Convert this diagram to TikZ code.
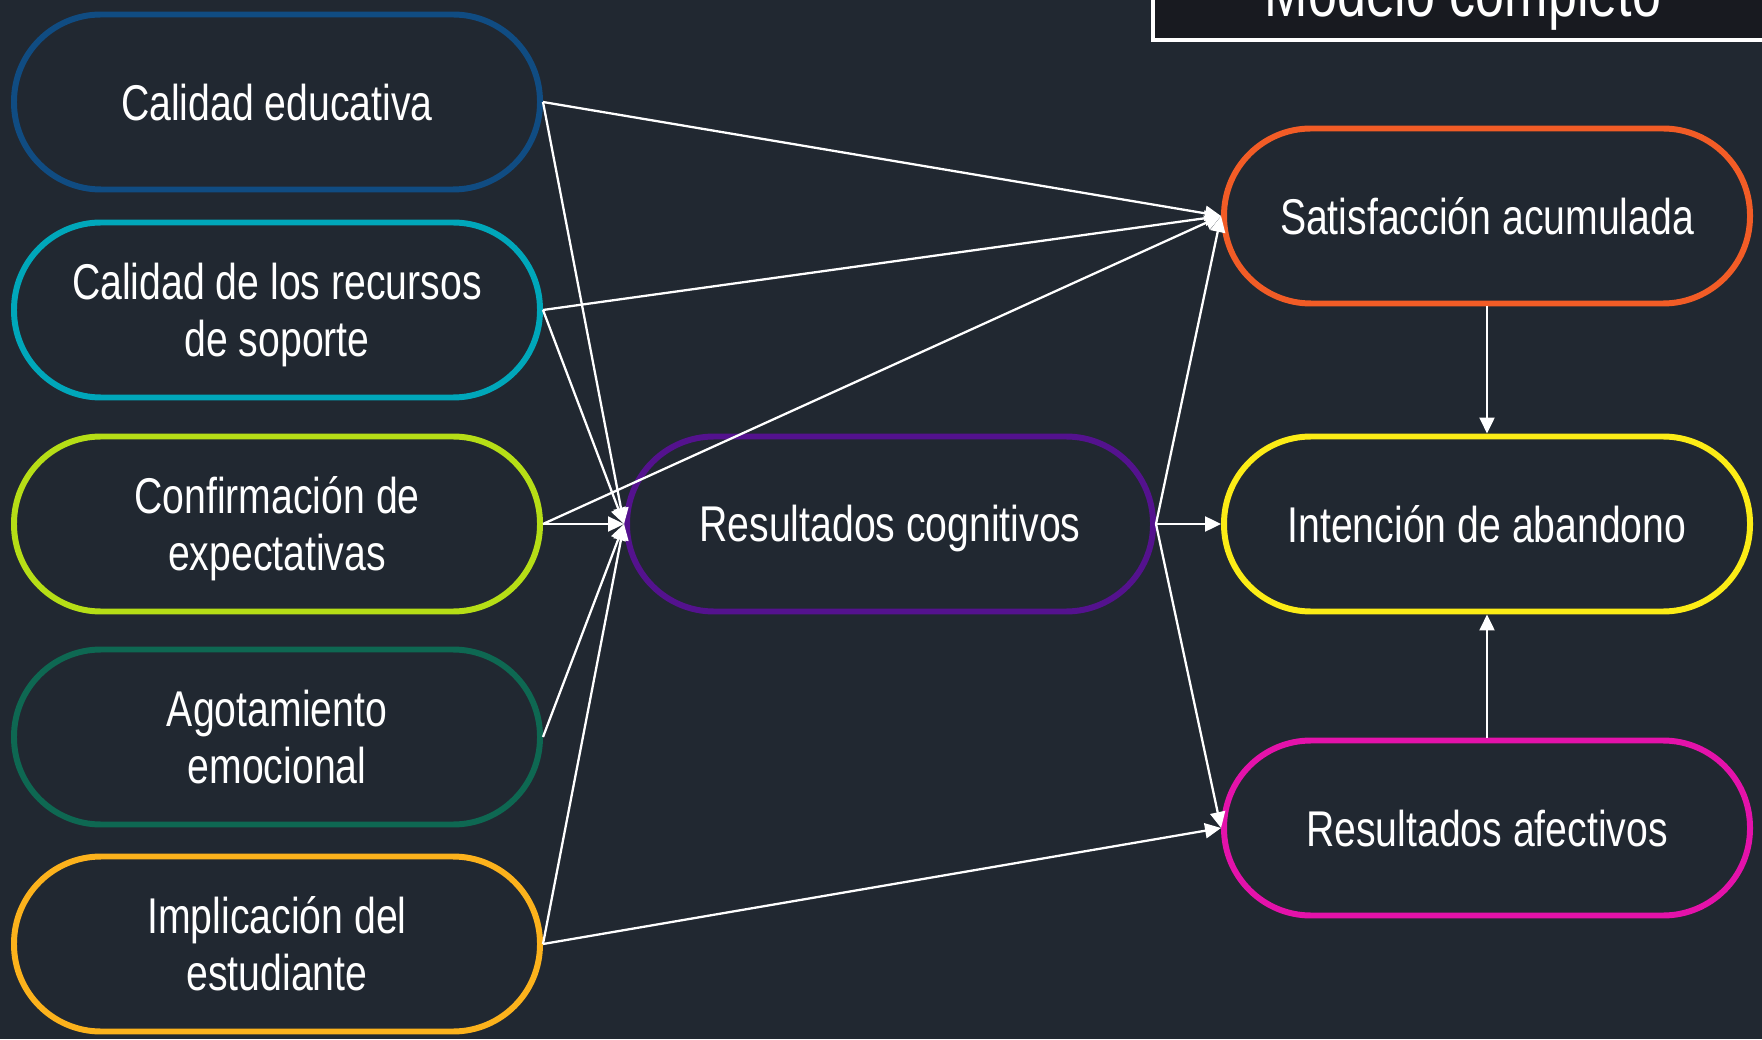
\documentclass[tikz,border=0pt]{standalone}
\usepackage{fontspec}
\setmainfont{Liberation Sans}[FakeStretch=0.78]
\usepackage{tikz}
\usetikzlibrary{arrows.meta}
\usepackage{xcolor}
\definecolor{bgdark}{RGB}{33,40,49}
\definecolor{titlefill}{RGB}{24,26,32}
\definecolor{cblue}{RGB}{16,76,130}
\definecolor{cteal}{RGB}{0,167,186}
\definecolor{clime}{RGB}{182,222,22}
\definecolor{cgreen}{RGB}{14,104,82}
\definecolor{camber}{RGB}{252,178,28}
\definecolor{cpurple}{RGB}{84,18,142}
\definecolor{corange}{RGB}{242,92,38}
\definecolor{cyellow}{RGB}{252,236,22}
\definecolor{cmagenta}{RGB}{228,18,170}
\newcommand{\txtstrut}{\rule[-0.186em]{0pt}{1.106em}}
\tikzstyle{pill} = [rectangle, rounded corners=8.7mm, minimum width=5.26cm, minimum height=1.75cm, line width=1.7pt, text=white, align=center, font=\fontsize{14.3}{16.2}\selectfont]
\tikzstyle{link} = [line width=0.65pt, color=white, -{Triangle[length=1.6mm,width=1.5mm]}]
\tikzstyle{titlebox} = [draw=white, fill=titlefill, line width=1.3pt]

\begin{document}
\begin{tikzpicture}
\useasboundingbox (0,0) rectangle (17.62,10.39);
\fill[bgdark] (0,0) rectangle (17.62,10.39);
\clip (0,0) rectangle (17.62,10.39);

% title box
\draw[titlebox] (11.53,9.99) rectangle (18.2,11);
\node[anchor=base, text=white, font=\fontsize{19}{22}\selectfont] (title) at (14.63,10.22) {Modelo completo};

% left column
\node[pill, draw=cblue] (ce) at (2.77,9.37) {\txtstrut Calidad educativa};
\node[pill, draw=cteal] (crs) at (2.77,7.29) {\txtstrut Calidad de los recursos\\\txtstrut de soporte};
\node[pill, draw=clime] (cde) at (2.77,5.15) {\txtstrut Confirmación de\\\txtstrut expectativas};
\node[pill, draw=cgreen] (ae) at (2.77,3.02) {\txtstrut Agotamiento\\\txtstrut emocional};
\node[pill, draw=camber] (ie) at (2.77,0.95) {\txtstrut Implicación del\\\txtstrut estudiante};

% middle and right
\node[pill, draw=cpurple] (rc) at (8.90,5.15) {\txtstrut Resultados cognitivos};
\node[pill, draw=corange] (sat) at (14.87,8.23) {\txtstrut Satisfacción acumulada};
\node[pill, draw=cyellow] (ia) at (14.87,5.15) {\txtstrut Intención de abandono};
\node[pill, draw=cmagenta] (ra) at (14.87,2.11) {\txtstrut Resultados afectivos};

\draw[link] (ce.east) -- (rc.west);
\draw[link] (ce.east) -- (sat.west);
\draw[link] (crs.east) -- (sat.west);
\draw[link] (crs.east) -- (rc.west);
\draw[link] (cde.east) -- (rc.west);
\draw[link] (cde.east) -- (sat.west);
\draw[link] (ae.east) -- (rc.west);
\draw[link] (ie.east) -- (rc.west);
\draw[link] (ie.east) -- (ra.west);
\draw[link] (rc.east) -- (sat.west);
\draw[link] (rc.east) -- (ia.west);
\draw[link] (rc.east) -- (ra.west);
\draw[link] (sat.south) -- (ia.north);
\draw[link] (ra.north) -- (ia.south);
\end{tikzpicture}
\end{document}
